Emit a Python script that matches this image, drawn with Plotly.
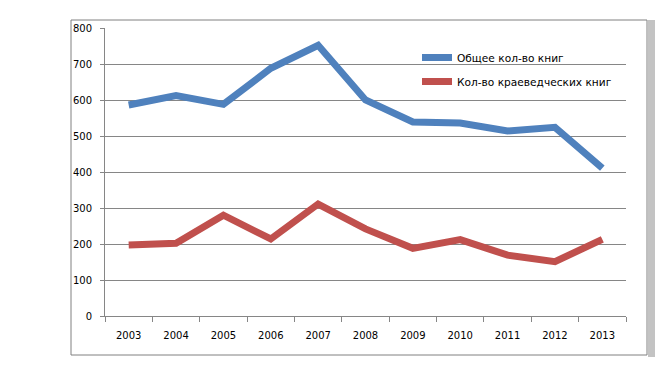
import plotly.graph_objects as go

years = ["2003", "2004", "2005", "2006", "2007", "2008", "2009", "2010", "2011", "2012", "2013"]
total_books = [586, 612, 588, 688, 752, 600, 539, 536, 514, 524, 411]
local_books = [197, 202, 280, 214, 311, 242, 188, 212, 169, 151, 213]
y_ticks = [0, 100, 200, 300, 400, 500, 600, 700, 800]

OFF = 8  # page body margin
W, H = 663 - OFF, 375 - OFF
L, T = 105 - OFF, 28 - OFF
R = W - (626 - OFF)
B = H - (316 - OFF)
pw, ph = W - L - R, H - T - B

def px_x(x):
    return (x - OFF - L) / pw

def px_y(y):
    return (H - B - (y - OFF)) / ph

fig = go.Figure()
fig.add_trace(go.Scatter(x=years, y=total_books, mode="lines", name="Общее кол-во книг",
                         legendgroup="a", line=dict(color="#4F81BD", width=7)))
fig.add_trace(go.Scatter(x=years, y=local_books, mode="lines", name="Кол-во краеведческих книг",
                         legendgroup="b", line=dict(color="#C0504D", width=7)))

fig.update_layout(
    width=W, height=H,
    margin=dict(l=L, r=R, t=T, b=B, pad=0),
    paper_bgcolor="white", plot_bgcolor="white",
    font=dict(family="DejaVu Sans", size=10, color="black"),
    showlegend=True,
    legend=dict(x=px_x(417), y=px_y(43), xanchor="left", yanchor="top",
                bgcolor="rgba(0,0,0,0)", font=dict(size=10.6), tracegroupgap=5),
    xaxis=dict(type="category", range=[-0.5, 10.5], showgrid=False, showline=True,
               linecolor="#868686", linewidth=1,
               ticks="outside", ticklen=5, tickcolor="#868686", tickson="boundaries",
               ticklabelstandoff=10, zeroline=False, fixedrange=True),
    yaxis=dict(range=[0, 800], tickvals=y_ticks, showgrid=True, gridcolor="#868686", gridwidth=1,
               showline=True, linecolor="#868686", linewidth=1, ticks="outside", ticklen=4,
               tickcolor="#868686", ticklabelstandoff=6, zeroline=False, fixedrange=True),
    shapes=[
        dict(type="rect", xref="paper", yref="paper",
             x0=px_x(71), x1=px_x(647), y0=px_y(355), y1=px_y(20),
             line=dict(color="#808080", width=1), fillcolor="rgba(0,0,0,0)", layer="below"),
        dict(type="rect", xref="paper", yref="paper",
             x0=px_x(648), x1=px_x(655), y0=px_y(357), y1=px_y(20),
             line=dict(width=0), fillcolor="#C3C3C3", layer="below"),
    ],
)

fig.write_html("out.html")
